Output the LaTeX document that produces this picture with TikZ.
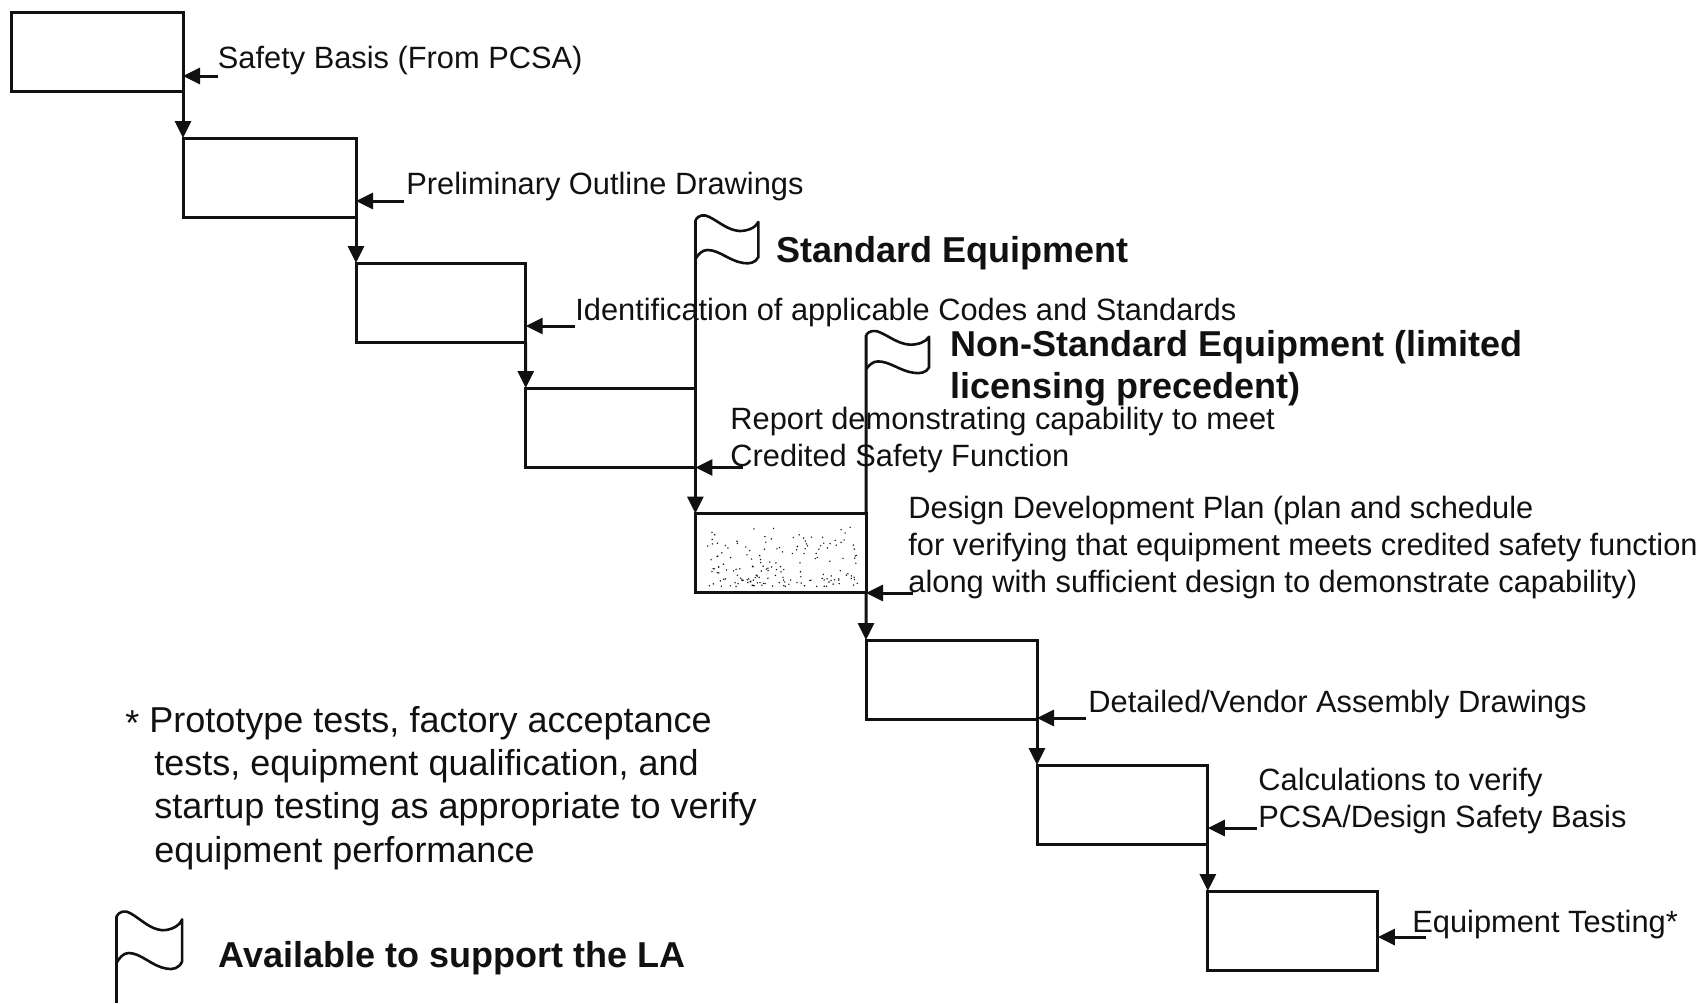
\documentclass[tikz,border=0pt]{standalone}
\usepackage{fontspec}
\setmainfont{Liberation Sans}
\usepackage{xcolor}
\definecolor{cInk}{HTML}{111111}
\usepackage{tikz}
\usetikzlibrary{arrows.meta}
\tikzset{
  node-box/.style={draw=cInk,line width=1.5pt,inner sep=0pt,outer sep=0pt,anchor=north west,
    minimum height=39.5pt},
  node-label/.style={anchor=west,inner sep=0pt,align=left,text=cInk,
    font=\fontsize{15.4}{18.6}\selectfont},
  node-note/.style={anchor=west,inner sep=0pt,align=left,text=cInk,
    font=\fontsize{18}{21.6}\selectfont},
  node-title/.style={anchor=west,inner sep=0pt,align=left,text=cInk,
    font=\fontsize{18}{21}\selectfont\bfseries},
  arrow/.style={-{Triangle[length=8.5pt,width=8pt]},line width=1.5pt,draw=cInk},
  pole/.style={line width=1.5pt,draw=cInk},
  pics/flag/.style={code={
    \draw[line width=1.3pt,draw=cInk,line join=round]
      (0,0) .. controls (3,-5) and (9,-6) .. (14,-3)
      .. controls (24,2) and (32,10) .. (44,11)
      .. controls (52,11) and (60,8) .. (63,2)
      -- (63,37) .. controls (60,43) and (54,44) .. (48,43)
      .. controls (34,41) and (24,30) .. (12,30)
      .. controls (7,30) and (3,34) .. (0,39);
  }},
}

\begin{document}
\begin{tikzpicture}[x=0.5pt,y=-0.5pt]
  \useasboundingbox (0,0) rectangle (1706,1003);
  % stairs
  \foreach \i/\x/\y/\w in {1/11/12/86,2/183/138/86.5,3/356/263/84.85,4/525.7/388/84.85,
      5/695.4/513.5/85.3,6/866/640/85.5,7/1037/765/85.4,8/1207.8/891/85}
    \node[node-box,minimum width=\w pt] (sketch\i) at (\x,\y) {};
  \foreach \a/\b in {1/2,2/3,3/4,4/5,5/6,6/7,7/8}
    \draw[arrow] (sketch\a.south east) -- (sketch\b.north west);
  % speckle of the shaded box
  \pgfmathsetseed{12}
  \foreach \i in {1,...,170}{
    \pgfmathsetmacro{\dotx}{706+rnd*154}
    \pgfmathsetmacro{\doty}{525+62*rnd^0.7}
    \fill[cInk] (\dotx,\doty) circle (0.4pt);
  }
  % free ends of the inputs
  \coordinate (feed1) at (218,76);
  \coordinate (feed2) at (404,201);
  \coordinate (feed3) at (575,326);
  \coordinate (feed4) at (743,467.5);
  \coordinate (feed5) at (913,593);
  \coordinate (feed6) at (1086,718);
  \coordinate (feed7) at (1257,828);
  \coordinate (feed8) at (1426,937);
  \foreach \i in {1,...,8}
    \draw[arrow] (feed\i) -- (feed\i -| sketch\i.east);
  % flags
  \coordinate (flag1) at (695.4,220);
  \coordinate (flag2) at (866,335);
  \coordinate (flag3) at (116,917);
  \coordinate (flagend) at (116,1003);
  \draw[pole] (flag1) -- (sketch4.north east);
  \draw[pole] (flag2) -- (sketch5.north east);
  \draw[pole] (flag3) -- (flagend);
  \pic at (flag1) {flag};
  \pic[yscale=0.88] at (flag2) {flag};
  \pic[xscale=1.05,yscale=1.2] at (flag3) {flag};
  % labels
  \node[node-label] (basis) at (217.5,61) {Safety Basis (From PCSA)};
  \node[node-label] (outline) at (406,187) {Preliminary Outline Drawings};
  \node[node-label] (codes) at (575,313) {Identification of applicable Codes and Standards};
  \node[node-label] (report) at (730,440) {Report demonstrating capability to meet\\Credited Safety Function};
  \node[node-label] (plan) at (908,547.5) {Design Development Plan (plan and schedule\\for verifying that equipment meets credited safety function\\along with sufficient design to demonstrate capability)};
  \node[node-label] (vendor) at (1088,705) {Detailed/Vendor Assembly Drawings};
  \node[node-label] (calc) at (1258,801) {Calculations to verify\\PCSA/Design Safety Basis};
  \node[node-label] (testing) at (1412,925) {Equipment Testing*};
  \node[node-title] (standard) at (776,253) {Standard Equipment};
  \node[node-title] (nonstd) at (950,368) {Non-Standard Equipment (limited\\licensing precedent)};
  \node[node-title] (avail) at (218,958) {Available to support the LA};
  \node[node-note] (star) at (125,723) {*};
  \node[node-note] (tests) at (149,788) {Prototype tests, factory acceptance\\\hspace*{2.5pt}tests, equipment qualification, and\\\hspace*{2.5pt}startup testing as appropriate to verify\\\hspace*{2.5pt}equipment performance};
\end{tikzpicture}
\end{document}
